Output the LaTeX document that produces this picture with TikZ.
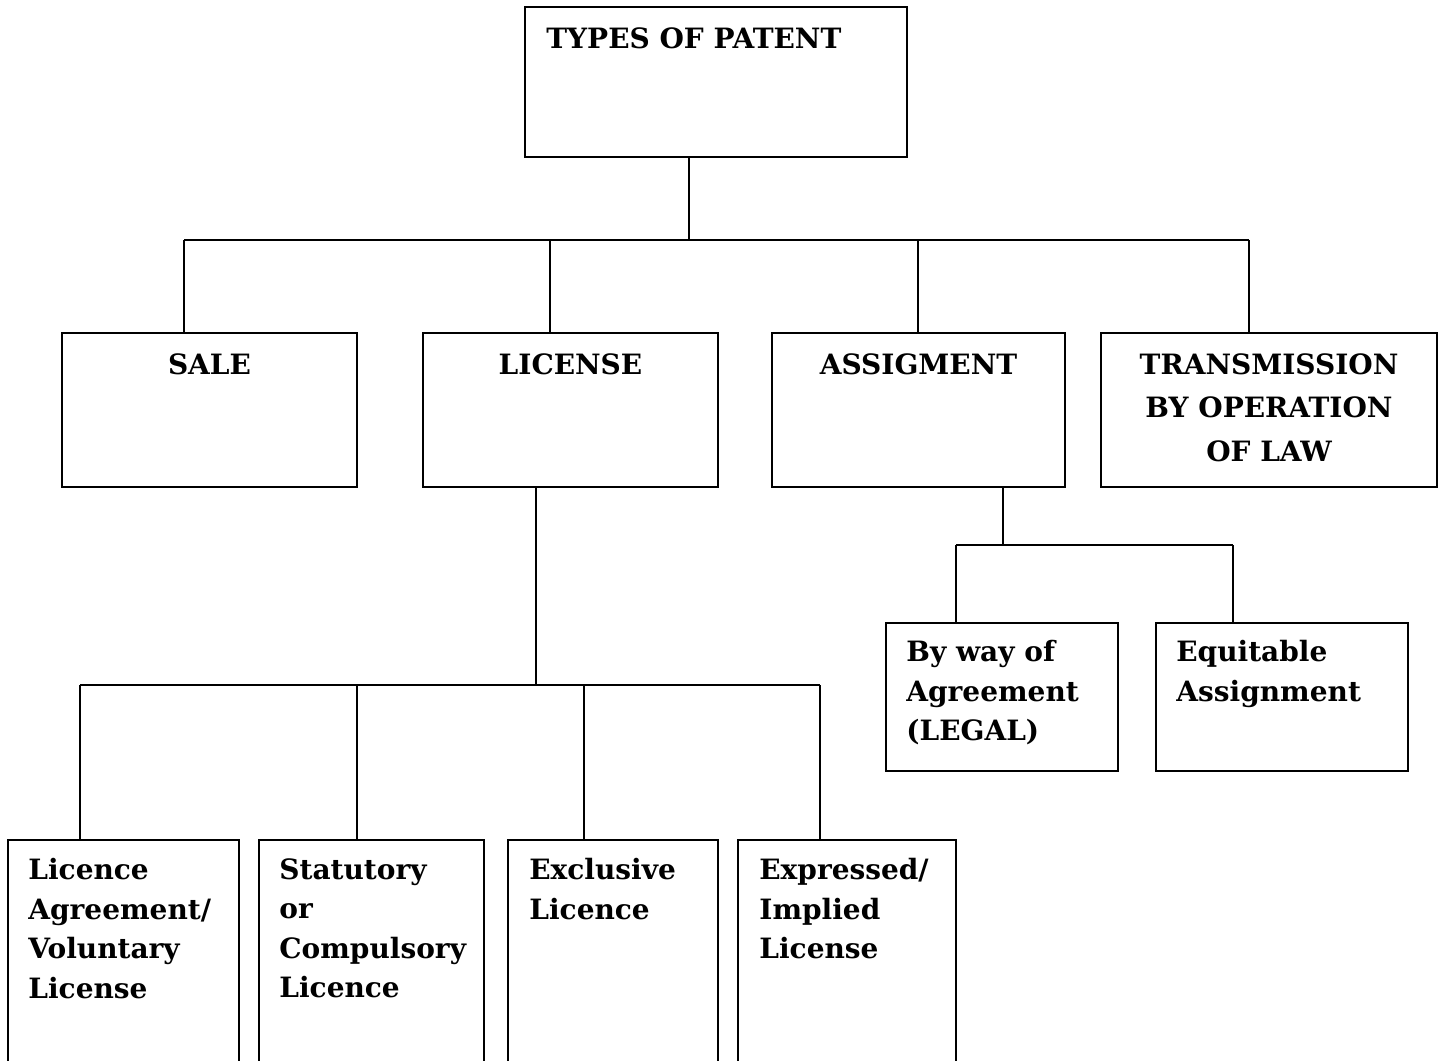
\documentclass[tikz,border=0pt]{standalone}
\usepackage{fontspec}
\setmainfont{DejaVu Serif}
\usetikzlibrary{positioning}

\tikzset{
  box/.style 2 args={draw, line width=1pt, anchor=north west, inner sep=0pt,
    outer sep=0pt, minimum width=#1*0.5pt, minimum height=#2*0.5pt},
  lbl/.style={inner sep=0pt, font=\bfseries\fontsize{14}{19.75}\selectfont},
  link/.style={line width=0.9pt}
}

\begin{document}
\begin{tikzpicture}[x=0.5pt, y=-0.5pt]
  \clip (0,0) rectangle (1447,1061);

  % boxes
  \node[box={382}{150}] (top) at (525,7) {};
  \node[box={295}{154}] (sale) at (62,333) {};
  \node[box={295}{154}] (lic) at (423,333) {};
  \node[box={293}{154}] (asg) at (772,333) {};
  \node[box={336}{154}] (trans) at (1101,333) {};
  \node[box={232}{148}] (way) at (886,623) {};
  \node[box={252}{148}] (equi) at (1156,623) {};
  \node[box={231}{260}] (vol) at (8,840) {};
  \node[box={225}{260}] (stat) at (259,840) {};
  \node[box={210}{260}] (excl) at (508,840) {};
  \node[box={218}{260}] (expr) at (738,840) {};

  % texts
  \node[lbl, anchor=north west] (topt) at ([shift={(21,20)}]top.north west) {TYPES OF PATENT};
  \node[lbl, anchor=north] (salet) at ([shift={(0,20)}]sale.north) {SALE};
  \node[lbl, anchor=north] (lict) at ([shift={(0,20)}]lic.north) {LICENSE};
  \node[lbl, anchor=north] (asgt) at ([shift={(0,20)}]asg.north) {ASSIGMENT};
  \node[lbl, anchor=north, align=center, font=\bfseries\fontsize{14}{21.75}\selectfont] (transt) at ([shift={(0,20)}]trans.north) {TRANSMISSION\\BY OPERATION\\OF LAW};
  \node[lbl, anchor=north west, align=left] (wayt) at ([shift={(20,17)}]way.north west) {By way of\\Agreement\\(LEGAL)};
  \node[lbl, anchor=north west, align=left] (equit) at ([shift={(20,17)}]equi.north west) {Equitable\\Assignment};
  \node[lbl, anchor=north west, align=left] (volt) at ([shift={(20,18)}]vol.north west) {Licence\\Agreement/\\Voluntary\\License};
  \node[lbl, anchor=north west, align=left] (statt) at ([shift={(20,18)}]stat.north west) {Statutory\\or\\Compulsory\\Licence};
  \node[lbl, anchor=north west, align=left] (exclt) at ([shift={(21,18)}]excl.north west) {Exclusive\\Licence};
  \node[lbl, anchor=north west, align=left] (exprt) at ([shift={(21,18)}]expr.north west) {Expressed/\\Implied\\License};

  % connectors
  \draw[link] (top.south -| 689,0) -- (689,240);
  \draw[link] (184,240) -- (1249,240);
  \foreach \n/\x in {sale/184, lic/550, asg/918, trans/1249}
    \draw[link] (\x,240) -- (\n.north -| \x,0);

  \draw[link] (lic.south -| 536,0) -- (536,685);
  \draw[link] (80,685) -- (820,685);
  \foreach \n/\x in {vol/80, stat/357, excl/584, expr/820}
    \draw[link] (\x,685) -- (\n.north -| \x,0);

  \draw[link] (asg.south -| 1003,0) -- (1003,545);
  \draw[link] (956,545) -- (1233,545);
  \foreach \n/\x in {way/956, equi/1233}
    \draw[link] (\x,545) -- (\n.north -| \x,0);
\end{tikzpicture}
\end{document}
